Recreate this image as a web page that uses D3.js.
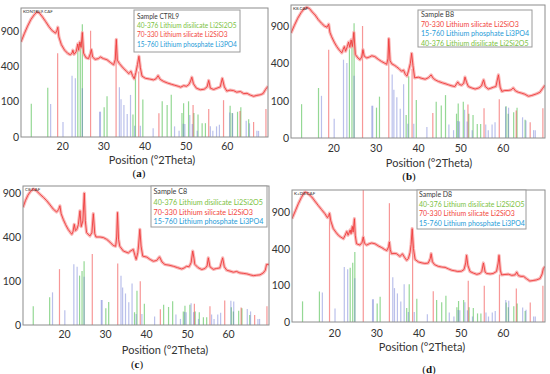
<!DOCTYPE html>
<html>
<head>
<meta charset="utf-8">
<script src="https://cdnjs.cloudflare.com/ajax/libs/d3/7.8.5/d3.min.js"></script>
<style>
  html, body { margin: 0; padding: 0; background: #fff; }
  svg { display: block; font-family: Lato, "Open Sans", sans-serif; }
</style>
</head>
<body>
<svg id="chart" width="550" height="374"></svg>
<script>
// ── Axis ticks ──
const X_TICKS = [20, 30, 40, 50, 60];
const Y_TICKS = [0, 100, 400, 900];

// ── Measured patterns [2theta, counts] ──
const curveA = [[10.0,720],[10.8,850],[11.6,980],[12.4,1100],[13.2,1190],[13.8,1240],[14.4,1230],[15.2,1150],[16.0,1060],[16.8,970],[17.6,900],[18.4,860],[18.7,900],[18.95,960],[19.2,800],[19.8,680],[20.6,600],[21.4,555],[22.0,540],[22.4,560],[22.6,600],[22.9,545],[23.4,580],[23.8,690],[24.0,600],[24.3,720],[24.6,640],[24.9,870],[25.2,560],[25.8,500],[26.4,490],[26.9,560],[27.1,610],[27.4,510],[28.0,480],[28.8,490],[29.3,510],[30.0,490],[30.9,475],[31.8,440],[32.5,415],[32.9,480],[33.15,760],[33.4,470],[33.9,430],[34.8,380],[35.6,345],[36.2,320],[36.7,345],[37.1,300],[37.5,270],[37.9,330],[38.3,420],[38.65,520],[39.0,380],[39.4,295],[40.2,275],[41.2,268],[42.2,260],[42.8,270],[43.3,300],[43.8,265],[44.7,245],[45.6,232],[46.5,222],[47.3,214],[48.2,205],[48.8,198],[49.5,210],[50.2,205],[50.8,220],[51.2,250],[51.5,285],[51.9,225],[52.6,190],[53.6,178],[54.5,182],[55.2,200],[55.6,255],[56.0,190],[56.8,180],[57.6,190],[58.4,200],[58.9,275],[59.4,200],[60.0,168],[60.8,175],[61.6,172],[62.4,160],[63.3,165],[64.1,150],[64.9,152],[65.7,140],[66.5,132],[67.3,138],[68.1,142],[68.8,150],[69.4,180],[70.0,205]];

const curveB = [[10.0,790],[10.8,910],[11.6,1030],[12.4,1130],[13.0,1190],[13.7,1225],[14.4,1200],[15.0,1140],[15.7,1085],[16.4,1010],[17.2,945],[17.9,900],[18.5,880],[18.9,930],[19.2,800],[19.6,735],[20.2,660],[20.8,600],[21.4,555],[22.0,520],[22.3,560],[22.6,600],[22.9,540],[23.3,600],[23.6,660],[23.9,590],[24.2,690],[24.5,600],[24.85,800],[25.2,500],[25.8,460],[26.3,440],[26.7,470],[27.0,560],[27.3,480],[27.9,460],[28.5,470],[29.1,485],[29.8,475],[30.6,445],[31.4,420],[32.0,405],[32.6,390],[32.9,450],[33.1,710],[33.4,430],[33.8,395],[34.4,380],[34.9,365],[35.5,345],[36.1,320],[36.6,330],[37.0,290],[37.4,275],[37.8,330],[38.2,400],[38.5,515],[38.8,380],[39.2,260],[40.1,265],[40.9,255],[41.7,248],[42.5,262],[43.1,286],[43.6,255],[44.2,240],[44.8,230],[45.8,218],[46.6,210],[47.2,203],[48.0,195],[48.7,190],[49.4,225],[49.8,205],[50.3,200],[50.8,215],[51.1,266],[51.5,220],[51.9,190],[52.7,180],[53.5,172],[54.4,180],[55.0,195],[55.5,243],[55.9,190],[56.6,172],[57.2,178],[57.8,185],[58.4,190],[59.0,286],[59.4,185],[59.8,156],[60.5,162],[61.3,162],[62.0,166],[62.5,180],[63.0,160],[63.7,150],[64.4,145],[65.2,138],[66.1,125],[66.9,130],[68.0,140],[68.8,150],[69.4,175],[70.0,200]];

const curveC = [[10.0,715],[10.6,800],[11.2,870],[11.8,920],[12.5,955],[13.2,935],[14.1,886],[15.0,840],[15.8,797],[16.6,745],[17.4,693],[18.2,660],[18.7,690],[19.0,734],[19.3,640],[19.8,578],[20.4,520],[21.0,473],[21.6,440],[21.9,425],[22.2,450],[22.5,524],[22.8,460],[23.1,470],[23.5,520],[23.9,674],[24.2,500],[24.6,560],[24.95,900],[25.2,560],[25.5,441],[26.3,409],[26.8,440],[27.15,640],[27.5,430],[27.8,400],[28.8,400],[29.6,395],[30.4,379],[31.2,355],[32.0,327],[32.6,320],[32.85,400],[33.05,654],[33.3,380],[33.6,320],[34.5,282],[35.1,275],[35.7,268],[36.1,280],[36.6,290],[36.9,295],[37.3,250],[37.6,222],[38.0,270],[38.2,330],[38.5,473],[38.8,320],[39.2,245],[40.2,238],[41.0,222],[41.8,210],[42.6,215],[43.3,240],[43.9,205],[44.6,189],[45.6,185],[46.7,178],[47.7,170],[48.7,162],[49.3,168],[49.9,178],[50.5,175],[51.0,200],[51.4,282],[51.7,230],[51.9,190],[52.7,170],[53.6,159],[54.4,165],[54.9,180],[55.2,233],[55.6,175],[56.4,160],[57.2,165],[58.0,168],[58.7,233],[59.1,175],[59.7,155],[60.5,150],[61.3,144],[62.1,148],[62.9,140],[63.7,138],[64.6,135],[65.4,130],[66.2,126],[67.0,128],[67.8,130],[68.6,140],[69.1,155],[69.4,189],[70.0,190]];

const curveD = [[10.0,794],[10.8,920],[11.5,1040],[12.2,1150],[12.8,1230],[13.1,1257],[13.6,1240],[14.7,1162],[15.4,1090],[16.2,1012],[17.0,940],[17.8,873],[18.4,810],[18.7,840],[18.9,880],[19.2,760],[19.8,648],[20.4,600],[21.0,559],[21.6,535],[22.2,516],[22.6,560],[23.0,610],[23.3,560],[23.8,630],[24.0,580],[24.3,680],[24.5,600],[24.8,794],[25.0,560],[25.3,456],[26.1,440],[26.6,470],[26.9,537],[27.2,460],[27.7,440],[28.3,455],[28.9,464],[29.7,455],[30.5,430],[31.3,411],[32.0,390],[32.5,380],[32.9,420],[33.1,476],[33.3,390],[33.6,347],[34.2,350],[34.8,347],[35.6,320],[36.2,345],[36.7,310],[37.2,283],[37.6,300],[38.0,360],[38.25,450],[38.5,648],[38.8,400],[39.2,290],[40.0,268],[40.8,260],[41.5,255],[42.3,258],[42.8,300],[43.0,347],[43.3,270],[43.8,245],[44.7,230],[45.5,225],[46.3,222],[47.1,210],[47.9,199],[48.6,195],[49.3,190],[50.2,192],[50.8,205],[51.2,260],[51.4,331],[51.7,240],[52.2,190],[53.0,178],[53.8,169],[54.6,175],[55.0,190],[55.4,259],[55.8,185],[56.2,175],[57.0,172],[57.7,175],[58.5,190],[58.9,260],[59.1,331],[59.4,200],[59.7,165],[60.5,168],[61.3,170],[62.1,162],[62.9,165],[63.3,185],[63.7,160],[64.3,155],[64.9,155],[65.6,140],[66.4,125],[67.2,128],[68.0,132],[68.8,140],[69.3,170],[69.6,212],[70.0,230]];

// ── Reference cards: line positions (2theta) and relative intensities ──
const disilicatePos = [12.5,16.5,23.8,24.4,24.9,30.2,30.9,37.2,37.8,39.6,44.3,45.5,46.5,49.1,49.5,50.7,52.0,53.0,54.0,54.8,60.8,61.3,62.6,63.4,65.3];
const disilicateRel = [0.087,0.19,0.6,0.72,1.0,0.07,0.13,0.04,0.29,0.11,0.1,0.08,0.14,0.045,0.09,0.1,0.045,0.04,0.015,0.015,0.077,0.045,0.05,0.07,0.025];

const silicatePos = [18.9,26.9,33.1,38.6,43.5,51.8,55.6,59.2,63.2,66.5,69.5];
const silicateRel = [0.62,1.0,0.75,0.38,0.05,0.09,0.07,0.12,0.06,0.02,0.07];

const phosphatePos = [17.2,20.2,22.4,23.2,24.9,29.1,29.3,33.9,34.3,35.0,35.8,36.6,37.6,39.0,42.1,47.3,48.4,49.4,49.8,51.0,51.6,52.8,56.0,56.6,57.5,58.2,60.7,61.4,64.7,65.5,67.3,67.7];
const phosphateRel = [0.29,0.06,1.0,0.92,0.63,0.17,0.17,0.66,0.38,0.27,0.14,0.47,0.033,0.033,0.02,0.03,0.01,0.047,0.045,0.13,0.045,0.01,0.03,0.01,0.03,0.04,0.16,0.15,0.07,0.05,0.01,0.01];

// phase scale per sample: [disilicate, silicate, phosphate]
const scaleA = [1015, 900, 300];
const scaleB = [943, 900, 440];
const scaleC = [210, 260, 190];
const scaleD = [364, 1400, 225];

// ── Legends ──
const legendA = ['Sample CTRL9', '40-376 Lithium disilicate Li2Si2O5', '70-330 Lithium silicate Li2SiO3', '15-760 Lithium phosphate Li3PO4'];
const legendB = ['Sample B8', '70-330 Lithium silicate Li2SiO3', '15-760 Lithium phosphate Li3PO4', '40-376 Lithium disilicate Li2Si2O5'];
const legendC = ['Sample C8', '40-376 Lithium disilicate Li2Si2O5', '70-330 Lithium silicate Li2SiO3', '15-760 Lithium phosphate Li3PO4'];
const legendD = ['Sample D8', '40-376 Lithium disilicate Li2Si2O5', '70-330 Lithium silicate Li2SiO3', '15-760 Lithium phosphate Li3PO4'];

const fileNames = ['KONTRL9.CAF', 'K8.CAF', 'C8.CAF', 'K+D8.CAF'];
const tags = ['a', 'b', 'c', 'd'];

// ── Layout (pixels) ──
const PANELS = [
  { left: 21, right: 268, bottom: 137, top: 8, yMax: 1326, tickY: 150, titleX: 152, titleY: 164, tagX: 139, tagY: 177,
    box: [134, 10, 106, 42], textX: 137, rows: [19, 28.2, 37.2, 46.7], textW: 100 },
  { left: 291, right: 545, bottom: 138, top: 5, yMax: 1269, tickY: 152, titleX: 429, titleY: 167, tagX: 409, tagY: 180,
    box: [418, 10, 114, 37], textX: 421, rows: [16.5, 26.5, 35.5, 45.8], textW: 108 },
  { left: 23, right: 269, bottom: 325, top: 186, yMax: 998, tickY: 338, titleX: 165, titleY: 354, tagX: 137, tagY: 368,
    box: [151, 186, 116, 41], textX: 153.5, rows: [193.6, 204.6, 214.6, 223.9], textW: 110 },
  { left: 292, right: 545, bottom: 322, top: 190, yMax: 1296, tickY: 337, titleX: 422, titleY: 351, tagX: 429, tagY: 373,
    box: [417, 190, 109, 39], textX: 419, rows: [196.8, 206.8, 216.2, 225.5], textW: 106 }
];

const PHASE_COLORS = {
  disilicate: { stick: '#3cb83c', text: '#7cc242' },
  silicate: { stick: '#f03030', text: '#f2453d' },
  phosphate: { stick: '#5a6ad0', text: '#1f9bd7' }
};
const PHASES = [
  { key: 'disilicate', pos: disilicatePos, rel: disilicateRel, opacity: 0.55 },
  { key: 'silicate', pos: silicatePos, rel: silicateRel, opacity: 0.5 },
  { key: 'phosphate', pos: phosphatePos, rel: phosphateRel, opacity: 0.42 }
];

const curves = [curveA, curveB, curveC, curveD];
const scales = [scaleA, scaleB, scaleC, scaleD];
const legends = [legendA, legendB, legendC, legendD];

const svg = d3.select('#chart');

function legendColor(label) {
  if (label.startsWith('40-376')) return PHASE_COLORS.disilicate.text;
  if (label.startsWith('70-330')) return PHASE_COLORS.silicate.text;
  if (label.startsWith('15-760')) return PHASE_COLORS.phosphate.text;
  return '#3a3a3a';
}

PANELS.forEach((p, i) => {
  const g = svg.append('g');

  const x = d3.scaleLinear().domain([10, 70]).range([p.left, p.right]);
  const y = d3.scaleSqrt().domain([0, p.yMax]).range([p.bottom, p.top]);

  const clipId = 'clip' + i;
  g.append('clipPath').attr('id', clipId)
    .append('rect')
    .attr('x', p.left).attr('y', p.top)
    .attr('width', p.right - p.left).attr('height', p.bottom - p.top);

  const plot = g.append('g').attr('clip-path', `url(#${clipId})`);

  // reference sticks
  PHASES.forEach((ph, k) => {
    const s = scales[i][k];
    plot.append('g')
      .selectAll('line')
      .data(ph.pos.map((v, j) => [v, ph.rel[j] * s]))
      .join('line')
      .attr('x1', d => x(d[0])).attr('x2', d => x(d[0]))
      .attr('y1', y(0))
      .attr('y2', d => y(Math.min(d[1], p.yMax)))
      .attr('stroke', PHASE_COLORS[ph.key].stick)
      .attr('stroke-opacity', ph.opacity)
      .attr('stroke-width', 1.2);
  });

  // measured pattern: light noisy band + thin core line
  const line = d3.line().x(d => x(d[0])).y(d => y(d[1]));
  plot.append('path')
    .datum(curves[i])
    .attr('d', line)
    .attr('fill', 'none')
    .attr('stroke', '#f7a0a0')
    .attr('stroke-opacity', 0.75)
    .attr('stroke-width', 3.2)
    .attr('stroke-linejoin', 'round');
  plot.append('path')
    .datum(curves[i])
    .attr('d', line)
    .attr('fill', 'none')
    .attr('stroke', '#ef3b3b')
    .attr('stroke-width', 0.9)
    .attr('stroke-linejoin', 'round');

  // frame
  g.append('rect')
    .attr('x', p.left).attr('y', p.top)
    .attr('width', p.right - p.left).attr('height', p.bottom - p.top)
    .attr('fill', 'none')
    .attr('stroke', '#8c8c8c')
    .attr('stroke-width', 1);

  // file name
  g.append('text')
    .attr('x', p.left + 2).attr('y', p.top + 4.5)
    .attr('font-size', '4.5px')
    .attr('fill', '#333')
    .text(fileNames[i]);

  // y axis
  g.append('g')
    .attr('transform', `translate(${p.left - 2},0)`)
    .call(d3.axisLeft(y).tickValues(Y_TICKS).tickSize(0).tickPadding(0).tickFormat(d3.format('d')))
    .call(a => a.select('.domain').remove())
    .selectAll('text')
    .attr('fill', '#333')
    .attr('font-size', '10.5px')
    .attr('font-family', 'Lato, sans-serif');

  // x axis
  g.append('g')
    .attr('transform', `translate(0,${p.tickY - 10})`)
    .call(d3.axisBottom(x).tickValues(X_TICKS).tickSize(0).tickPadding(0).tickFormat(d3.format('d')))
    .call(a => a.select('.domain').remove())
    .selectAll('text')
    .attr('dy', 0)
    .attr('y', 10)
    .attr('fill', '#333')
    .attr('font-size', '10.5px')
    .attr('font-family', 'Lato, sans-serif');

  g.append('text')
    .attr('x', p.titleX).attr('y', p.titleY)
    .attr('text-anchor', 'middle')
    .attr('font-size', '11px')
    .attr('fill', '#333')
    .text('Position (°2Theta)');

  const tag = g.append('text')
    .attr('x', p.tagX).attr('y', p.tagY)
    .attr('text-anchor', 'middle')
    .attr('font-family', '"Liberation Serif", serif')
    .attr('font-size', '11px')
    .attr('fill', '#111');
  tag.append('tspan').text('(');
  tag.append('tspan').attr('font-weight', 'bold').text(tags[i]);
  tag.append('tspan').text(')');

  // legend box
  const [bx, by, bw, bh] = p.box;
  g.append('rect')
    .attr('x', bx).attr('y', by).attr('width', bw).attr('height', bh)
    .attr('fill', '#fff')
    .attr('stroke', '#9a9a9a')
    .attr('stroke-width', 1);

  const rows = g.selectAll('.lg' + i)
    .data(legends[i])
    .join('text')
    .attr('x', p.textX)
    .attr('y', (d, j) => p.rows[j])
    .attr('font-size', '7px')
    .attr('fill', d => legendColor(d))
    .text(d => d);

  // fit font so the longest entry has the reference width
  const widest = d3.max(rows.nodes(), n => n.getComputedTextLength());
  rows.attr('font-size', (7 * p.textW / widest).toFixed(2) + 'px');
});
</script>
</body>
</html>
